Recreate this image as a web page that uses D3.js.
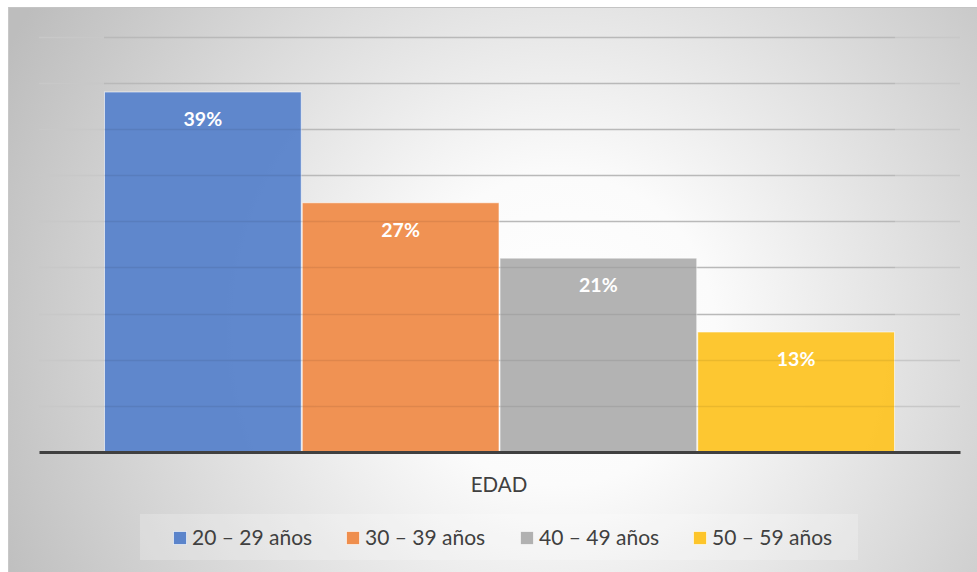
<!DOCTYPE html>
<html><head><meta charset="utf-8">
<script src="https://cdn.jsdelivr.net/npm/d3@7"></script>
<style>html,body{margin:0;padding:0;background:#fff;overflow:hidden}</style>
</head><body>
<svg id="chart" width="977" height="572"></svg>
<script>
const categories = ["20 – 29 años", "30 – 39 años", "40 – 49 años", "50 – 59 años"];
const values = [39, 27, 21, 13];
const labels = ["39%", "27%", "21%", "13%"];
const axisTitle = "EDAD";
const yTicks = [0, 5, 10, 15, 20, 25, 30, 35, 40, 45];
const colors = ["#5B84CB", "#EF8E4D", "#B1B1B1", "#FDC52A"];

const svg = d3.select("#chart");
const W = 977, H = 572;
const font = "Lato, 'Open Sans', sans-serif";

const defs = svg.append("defs");
const grad = defs.append("radialGradient").attr("id", "bg")
  .attr("gradientUnits", "userSpaceOnUse")
  .attr("cx", 560).attr("cy", 330).attr("r", 620);
grad.append("stop").attr("offset", "0%").attr("stop-color", "#ffffff");
grad.append("stop").attr("offset", "25%").attr("stop-color", "#fbfbfb");
grad.append("stop").attr("offset", "100%").attr("stop-color", "#bdbdbd");

svg.append("rect").attr("x", 8).attr("y", 7).attr("width", W - 8).attr("height", H - 7)
  .attr("fill", "url(#bg)");
svg.append("line").attr("x1", 8).attr("x2", W).attr("y1", 7.5).attr("y2", 7.5)
  .attr("stroke", "#c4c4c4").attr("stroke-width", 1);
svg.append("line").attr("x1", 8.5).attr("x2", 8.5).attr("y1", 7).attr("y2", H)
  .attr("stroke", "#c8c8c8").attr("stroke-width", 1);

const x = d3.scaleBand().domain(categories).range([104, 895]).paddingInner(0).paddingOuter(0);
const y = d3.scaleLinear().domain([0, 45]).range([452, 36.6]);

// gridlines
svg.append("g").selectAll("line").data(yTicks.filter(d => d > 0)).join("line")
  .attr("x1", 39).attr("x2", 960)
  .attr("y1", d => Math.round(y(d)) + 0.5).attr("y2", d => Math.round(y(d)) + 0.5)
  .attr("stroke", "#c8c8c8").attr("stroke-width", 1.5);

// bars
svg.append("g").selectAll("rect").data(categories).join("rect")
  .attr("x", d => x(d) + 0.5)
  .attr("y", (d, i) => y(values[i]))
  .attr("width", x.bandwidth() - 1)
  .attr("height", (d, i) => y(0) - y(values[i]))
  .attr("fill", (d, i) => colors[i])
  .attr("fill-opacity", 0.97)
  .attr("stroke", "rgba(255,255,255,0.6)").attr("stroke-width", 1);

// grid over bars faintly
svg.append("g").selectAll("line").data(yTicks.filter(d => d > 0)).join("line")
  .attr("x1", 104).attr("x2", 895)
  .attr("y1", d => Math.round(y(d)) + 0.5).attr("y2", d => Math.round(y(d)) + 0.5)
  .attr("stroke", "rgba(0,0,0,0.07)").attr("stroke-width", 1.5);

// data labels
svg.append("g").selectAll("text").data(categories).join("text")
  .attr("x", d => x(d) + x.bandwidth() / 2)
  .attr("y", (d, i) => y(values[i]) + 34)
  .attr("text-anchor", "middle")
  .attr("font-family", font).attr("font-weight", "bold").attr("font-size", 19.5)
  .attr("fill", "#ffffff")
  .text((d, i) => labels[i]);

// baseline axis
const xAxis = d3.axisBottom(d3.scaleLinear().domain([0, 1]).range([39, 960])).ticks(0).tickSize(0).tickFormat("");
const ax = svg.append("g").attr("transform", `translate(0,${y(0)})`).call(xAxis);
ax.select(".domain").attr("stroke", "#404040").attr("stroke-width", 3);

svg.append("text").attr("x", 499).attr("y", 492).attr("text-anchor", "middle")
  .attr("font-family", font).attr("font-size", 20.5).attr("fill", "#404040").text(axisTitle);

// legend
svg.append("rect").attr("x", 140).attr("y", 514).attr("width", 718).attr("height", 46)
  .attr("fill", "rgba(255,255,255,0.22)");
const lx = [173, 346, 520, 693];
const lg = svg.append("g").selectAll("g").data(categories).join("g")
  .attr("transform", (d, i) => `translate(${lx[i]},531)`);
lg.append("rect").attr("x", 0.5).attr("y", 0.5).attr("width", 13).attr("height", 13)
  .attr("fill", (d, i) => colors[i]).attr("stroke", "rgba(255,255,255,0.6)");
lg.append("text").attr("x", 19).attr("y", 14)
  .attr("font-family", font).attr("font-size", 21).attr("fill", "#404040")
  .text(d => d);
</script>
</body></html>
